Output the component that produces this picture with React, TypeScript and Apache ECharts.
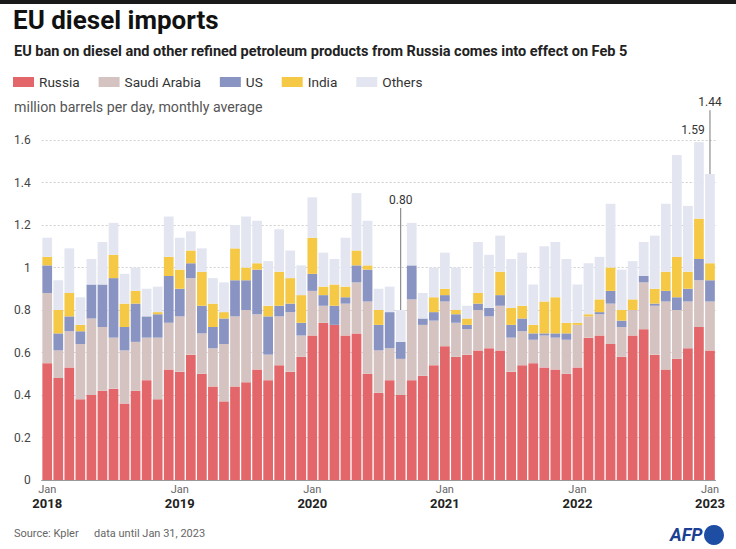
import React, { useEffect, useRef } from 'react';
import * as echarts from 'echarts';

const months = [
  '2018-01','2018-02','2018-03','2018-04','2018-05','2018-06','2018-07','2018-08','2018-09','2018-10','2018-11','2018-12',
  '2019-01','2019-02','2019-03','2019-04','2019-05','2019-06','2019-07','2019-08','2019-09','2019-10','2019-11','2019-12',
  '2020-01','2020-02','2020-03','2020-04','2020-05','2020-06','2020-07','2020-08','2020-09','2020-10','2020-11','2020-12',
  '2021-01','2021-02','2021-03','2021-04','2021-05','2021-06','2021-07','2021-08','2021-09','2021-10','2021-11','2021-12',
  '2022-01','2022-02','2022-03','2022-04','2022-05','2022-06','2022-07','2022-08','2022-09','2022-10','2022-11','2022-12',
  '2023-01',
];

const russia = [
  0.55,0.48,0.53,0.38,0.40,0.42,0.43,0.36,0.42,0.47,0.38,0.52,
  0.51,0.59,0.50,0.44,0.37,0.44,0.46,0.52,0.47,0.54,0.51,0.58,
  0.68,0.74,0.73,0.68,0.69,0.50,0.41,0.47,0.40,0.47,0.49,0.54,
  0.63,0.58,0.59,0.61,0.62,0.61,0.51,0.54,0.55,0.53,0.52,0.50,
  0.53,0.67,0.68,0.64,0.58,0.68,0.71,0.59,0.52,0.57,0.62,0.72,
  0.61,
];
const saudi = [
  0.33,0.13,0.17,0.26,0.36,0.30,0.24,0.25,0.23,0.20,0.29,0.22,
  0.26,0.36,0.19,0.18,0.27,0.33,0.34,0.26,0.12,0.23,0.28,0.10,
  0.21,0.08,0.00,0.15,0.24,0.34,0.20,0.15,0.17,0.38,0.24,0.21,
  0.21,0.16,0.12,0.19,0.15,0.21,0.16,0.16,0.11,0.15,0.15,0.16,
  0.20,0.10,0.10,0.19,0.14,0.12,0.22,0.23,0.32,0.23,0.22,0.22,
  0.23,
];
const us = [
  0.13,0.08,0.07,0.06,0.16,0.20,0.28,0.11,0.18,0.10,0.11,0.22,
  0.13,0.07,0.13,0.10,0.12,0.17,0.14,0.21,0.18,0.05,0.04,0.06,
  0.08,0.05,0.09,0.03,0.08,0.15,0.12,0.17,0.08,0.16,0.03,0.04,
  0.03,0.04,0.02,0.03,0.04,0.05,0.06,0.06,0.03,0.01,0.02,0.03,
  0.00,0.00,0.01,0.06,0.03,0.00,0.03,0.01,0.05,0.06,0.06,0.10,
  0.10,
];
const india = [
  0.04,0.11,0.11,0.03,0.00,0.00,0.11,0.11,0.06,0.00,0.01,0.09,
  0.09,0.06,0.16,0.11,0.03,0.15,0.06,0.03,0.05,0.16,0.12,0.13,
  0.17,0.04,0.10,0.05,0.07,0.02,0.07,0.00,0.00,0.00,0.00,0.07,
  0.03,0.02,0.03,0.05,0.00,0.11,0.08,0.06,0.04,0.15,0.17,0.05,
  0.01,0.01,0.06,0.11,0.05,0.05,0.00,0.07,0.09,0.19,0.08,0.19,
  0.08,
];
const others = [
  0.09,0.14,0.21,0.13,0.12,0.20,0.15,0.14,0.11,0.13,0.12,0.19,
  0.15,0.09,0.11,0.12,0.14,0.11,0.24,0.20,0.21,0.20,0.13,0.14,
  0.19,0.16,0.12,0.23,0.27,0.21,0.10,0.12,0.15,0.20,0.12,0.14,
  0.17,0.20,0.06,0.24,0.25,0.17,0.23,0.25,0.19,0.26,0.26,0.30,
  0.18,0.24,0.20,0.30,0.19,0.18,0.16,0.25,0.32,0.48,0.31,0.36,
  0.42,
];

const seriesNames = ['Russia', 'Saudi Arabia', 'US', 'India', 'Others'];
const seriesColors = ['#e3676a', '#d5c3c1', '#8994c3', '#f5c945', '#e3e6f1'];
const yTicks = [0, 0.2, 0.4, 0.6, 0.8, 1, 1.2, 1.4, 1.6];

// annotation: category index, total shown, leader line top (value units), label text, x shift
const annIndex = [32, 59, 60];
const annTotal = [0.80, 1.59, 1.44];
const annLineTop = [1.28, 1.59, 1.74];
const annText = ['0.80', '1.59', '1.44'];
const annShift = [0, -6, 0];

const FONT = 'Roboto, "Noto Sans", sans-serif';

export default function App() {
  const ref = useRef<HTMLDivElement>(null);

  useEffect(() => {
    if (!ref.current) return;
    const chart = echarts.init(ref.current, undefined, { renderer: 'svg' });
    const values = [russia, saudi, us, india, others];

    const barSeries = values.map((arr, k) => ({
      name: seriesNames[k],
      type: 'bar',
      stack: 'total',
      data: arr,
      barCategoryGap: '12%',
      itemStyle: { color: seriesColors[k] },
      emphasis: { disabled: true },
      silent: true,
    }));

    const option: any = {
      animation: false,
      textStyle: { fontFamily: FONT },
      title: [
        {
          text: 'EU diesel imports',
          left: 13, top: 7, padding: 0,
          textStyle: { fontSize: 26, fontWeight: 'bold', color: '#111', fontFamily: FONT },
        },
        {
          text: 'EU ban on diesel and other refined petroleum products from Russia comes into effect on Feb 5',
          left: 14, top: 44, padding: 0,
          textStyle: { fontSize: 14.5, fontWeight: 'bold', color: '#222', fontFamily: FONT },
        },
        {
          text: 'million barrels per day, monthly average',
          left: 14, top: 100, padding: 0,
          textStyle: { fontSize: 14.2, fontWeight: 'normal', color: '#555', fontFamily: FONT },
        },
        {
          text: 'Source: Kpler',
          left: 14, top: 528, padding: 0,
          textStyle: { fontSize: 11, fontWeight: 'normal', color: '#666', fontFamily: FONT },
        },
        {
          text: 'data until Jan 31, 2023',
          left: 94, top: 528, padding: 0,
          textStyle: { fontSize: 11, fontWeight: 'normal', color: '#666', fontFamily: FONT },
        },
      ],
      legend: {
        data: seriesNames,
        left: 13, top: 75, padding: 0,
        icon: 'rect', itemWidth: 21, itemHeight: 10, itemGap: 19,
        selectedMode: false,
        textStyle: { fontSize: 13.6, color: '#333', fontFamily: FONT },
      },
      grid: { left: 41.7, right: 20.5, top: 140, bottom: 69, containLabel: false },
      xAxis: {
        type: 'category',
        data: months,
        axisLine: { lineStyle: { color: '#999', width: 1 } },
        axisTick: { show: false },
        axisLabel: {
          interval: (index: number) => index % 12 === 0,
          margin: 3,
          formatter: (v: string) => `{a|Jan}\n{b|${v.slice(0, 4)}}`,
          rich: {
            a: { fontSize: 11, color: '#666', lineHeight: 13, fontFamily: FONT },
            b: { fontSize: 13, color: '#222', fontWeight: 'bold', lineHeight: 15, fontFamily: FONT },
          },
        },
      },
      yAxis: {
        type: 'value',
        min: yTicks[0], max: yTicks[yTicks.length - 1], interval: 0.2,
        axisLine: { show: false },
        axisTick: { show: false },
        axisLabel: { color: '#444', fontSize: 12, margin: 11, fontFamily: FONT },
        splitLine: { lineStyle: { color: '#cfcfcf', type: [2, 2], width: 1 } },
      },
      series: [
        ...barSeries,
        {
          type: 'custom',
          silent: true,
          clip: false,
          z: 10,
          data: annIndex.map((idx, i) => [idx, annTotal[i], annLineTop[i], annShift[i]]),
          encode: { x: 0, y: 1 },
          renderItem: (params: any, api: any) => {
            const idx = api.value(0);
            const total = api.value(1);
            const top = api.value(2);
            const dx = api.value(3);
            const p0 = api.coord([idx, total]);
            const children: any[] = [];
            let labelY = p0[1] - 6;
            if (top > total) {
              const p1 = api.coord([idx, top]);
              children.push({
                type: 'line',
                shape: { x1: p0[0], y1: p0[1], x2: p1[0], y2: p1[1] },
                style: { stroke: '#777', lineWidth: 1 },
              });
              labelY = p1[1] - 2;
            }
            children.push({
              type: 'text',
              x: p0[0] + dx,
              y: labelY,
              style: {
                text: annText[params.dataIndex],
                fill: '#333',
                font: `12px ${FONT}`,
                textAlign: 'center',
                textVerticalAlign: 'bottom',
                align: 'center',
                verticalAlign: 'bottom',
              },
            });
            return { type: 'group', children };
          },
        },
      ],
      graphic: [
        { type: 'rect', left: 0, top: 0, shape: { x: 0, y: 0, width: 736, height: 4 }, style: { fill: '#1a1a1a' } },
        {
          type: 'text', left: 670, top: 525,
          style: { text: 'AFP', fill: '#1b3f94', font: `italic bold 18px ${FONT}` },
        },
        { type: 'circle', left: 704, top: 525, shape: { cx: 0, cy: 0, r: 10 }, style: { fill: '#1d4ea3' } },
      ],
    };

    chart.setOption(option);
    return () => chart.dispose();
  }, []);

  return (
    <div
      ref={ref}
      style={{ position: 'fixed', left: 0, top: 0, width: 736, height: 549, background: '#fff' }}
    />
  );
}
